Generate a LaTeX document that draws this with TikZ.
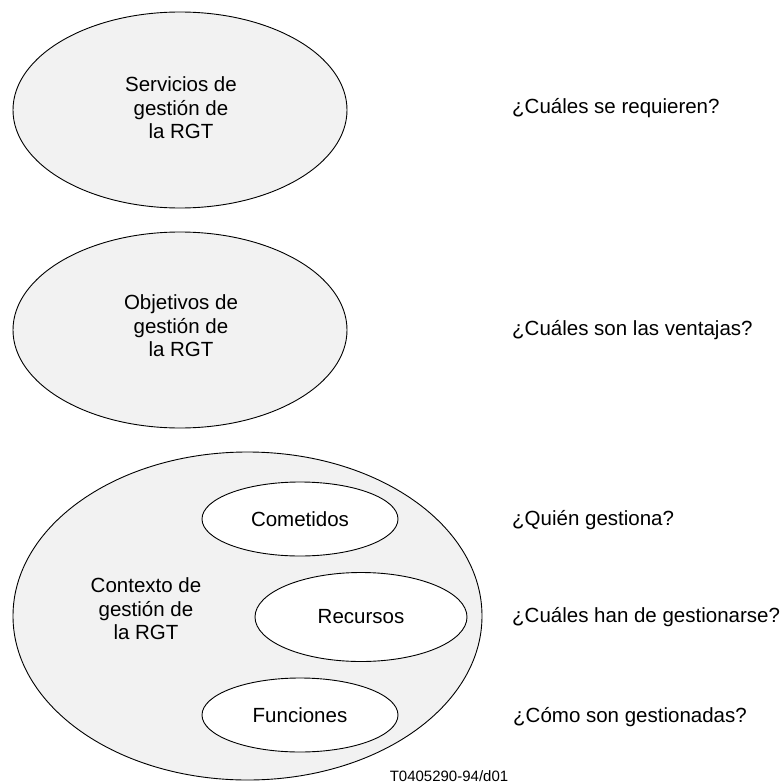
\documentclass[tikz,border=0pt]{standalone}
\usepackage{fontspec}
\setmainfont{Liberation Sans}
\usetikzlibrary{shapes.geometric}
\begin{document}
\begin{tikzpicture}[x=1pt,y=-1pt,
  lbl/.style={font=\fontsize{20.5}{23.5}\selectfont, align=center, inner sep=0pt},
  bigell/.style={ellipse, draw=black, line width=0.9pt, fill=gray!10, inner sep=0pt},
  smallell/.style={ellipse, draw=black, line width=0.9pt, fill=white, inner sep=0pt, font=\fontsize{20.5}{23.5}\selectfont},
  question/.style={font=\fontsize{20.5}{23.5}\selectfont, anchor=west, inner sep=0pt}]
\useasboundingbox (0,0) rectangle (779,784);
% top ellipses
\node[bigell, minimum width=334pt, minimum height=196pt] (serv) at (180,110) {};
\node[lbl] (servt) at (181,108) {Servicios de\\gestión de\\la RGT};
\node[bigell, minimum width=334pt, minimum height=196pt] (obj) at (180,330) {};
\node[lbl] (objt) at (181,326) {Objetivos de\\gestión de\\la RGT};
% context ellipse
\node[bigell, minimum width=469pt, minimum height=328pt] (ctx) at (247.5,616) {};
\node[lbl] (ctxt) at (146,609) {Contexto de\\gestión de\\la RGT};
\node[smallell, minimum width=196pt, minimum height=74pt] (com) at (300,519) {Cometidos};
\node[smallell, minimum width=212pt, minimum height=89pt] (rec) at (361,617) {Recursos};
\node[smallell, minimum width=196pt, minimum height=74pt] (fun) at (300,715) {Funciones};
% questions
\node[question] (q1) at (512,108) {¿Cuáles se requieren?};
\node[question] (q2) at (512,330) {¿Cuáles son las ventajas?};
\node[question] (q3) at (512,520) {¿Quién gestiona?};
\node[question] (q4) at (512,617) {¿Cuáles han de gestionarse?};
\node[question] (q5) at (513,717) {¿Cómo son gestionadas?};
% footer
\node[font=\fontsize{15}{17}\selectfont, anchor=base, inner sep=0pt] (foot) at (449,781) {T0405290-94/d01};
\end{tikzpicture}
\end{document}
